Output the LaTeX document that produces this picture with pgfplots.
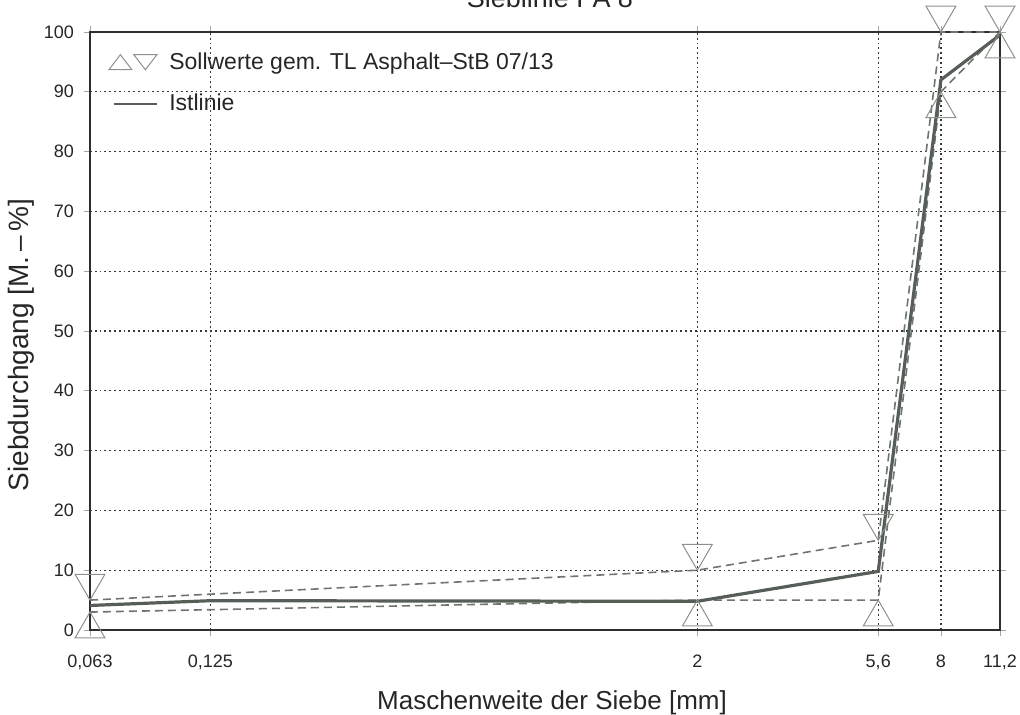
\documentclass[border=0pt]{standalone}
\usepackage{fontspec}
\setmainfont{Liberation Sans}
\usepackage{pgfplots}
\pgfplotsset{compat=1.18}

\definecolor{framec}{HTML}{2E2E2E}
\definecolor{gridc}{HTML}{383838}
\definecolor{istc}{HTML}{575D57}
\definecolor{dashc}{HTML}{6E746E}
\definecolor{markc}{HTML}{8A928A}

% triangle with apex at the data point, body below (lower limit)
\pgfdeclareplotmark{apexup}{%
  \pgfpathmoveto{\pgfpoint{0pt}{0pt}}%
  \pgfpathlineto{\pgfpoint{-0.866\pgfplotmarksize}{-1.5\pgfplotmarksize}}%
  \pgfpathlineto{\pgfpoint{0.866\pgfplotmarksize}{-1.5\pgfplotmarksize}}%
  \pgfpathclose\pgfusepathqstroke}
% triangle with apex at the data point, body above (upper limit)
\pgfdeclareplotmark{apexdown}{%
  \pgfpathmoveto{\pgfpoint{0pt}{0pt}}%
  \pgfpathlineto{\pgfpoint{-0.866\pgfplotmarksize}{1.5\pgfplotmarksize}}%
  \pgfpathlineto{\pgfpoint{0.866\pgfplotmarksize}{1.5\pgfplotmarksize}}%
  \pgfpathclose\pgfusepathqstroke}

\pgfplotstableread{
x     lower upper
0.063 3     5
2     5     10
5.6   5     15
8     90    100
11.2  100   100
}\limits

\pgfplotstableread{
x     y
0.063 4.1
0.125 4.9
2     4.8
5.6   9.8
8     92
11.2  99.5
}\ist

\begin{document}
\begin{tikzpicture}
\begin{axis}[
  name=ax,
  scale only axis,
  width=455pt, height=299pt,
  xmode=log,
  xmin=0.063, xmax=11.2,
  ymin=0, ymax=100,
  xtick={0.063,0.125,2,5.6,8,11.2},
  xticklabels={{0,063},{0,125},2,{5,6},8,{11,2}},
  ytick={0,10,...,100},
  yticklabel={\pgfmathprintnumber[assume math mode=true]{\tick}},
  minor xtick={},
  log ticks with fixed point,
  tick align=outside,
  major tick length=3pt,
  tick style={color=gray!70, line width=0.4pt},
  ticklabel style={font=\fontsize{9}{10}\selectfont, text=black!85},
  yticklabel style={xshift=-1.5pt},
  xticklabel style={yshift=-6pt},
  grid=major,
  major grid style={color=gridc, line width=0.65pt, dash pattern=on 0.9pt off 1.5pt},
  axis line style={color=framec, line width=1pt},
  xlabel={Maschenweite der Siebe [mm]},
  ylabel={Siebdurchgang [M.\,–\,\%]},
  xlabel style={font=\fontsize{13}{15}\selectfont, text=black!85, at={(axis description cs:0.5,0)}, anchor=base, yshift=-40pt, xshift=3.5pt},
  ylabel style={font=\fontsize{14}{16}\selectfont, text=black!85, at={(axis description cs:-0.0681,0.4766)}, anchor=base},
  legend style={at={(axis description cs:0,1)}, anchor=north west, draw=none, fill=none,
    font=\fontsize{11.5}{13}\selectfont, text=black!85, row sep=7pt, xshift=6pt, yshift=-6pt},
  legend cell align=left,
  clip=false,
]
\addlegendimage{legend image code/.code={
  \draw[markc, line width=0.5pt] (0pt,-3.75pt) -- (11.5pt,-3.75pt) -- (5.75pt,3.75pt) -- cycle;
  \draw[markc, line width=0.5pt] (12.5pt,3.75pt) -- (24pt,3.75pt) -- (18.25pt,-3.75pt) -- cycle;
  \path (28pt,0pt);}}
\addlegendentry{Sollwerte gem. TL Asphalt–StB 07/13}
\addlegendimage{legend image code/.code={
  \draw[istc, line width=1pt] (2.5pt,0pt) -- (24pt,0pt);
  \path (28pt,0pt);}}
\addlegendentry{Istlinie}

\addplot[forget plot, dashc, line width=0.8pt, dash pattern=on 4pt off 2.5pt,
  mark=apexup, mark size=8.6pt, mark options={solid, draw=markc, line width=0.5pt}]
  table[x=x, y=lower] {\limits};
\addplot[forget plot, dashc, line width=0.8pt, dash pattern=on 4pt off 2.5pt,
  mark=apexdown, mark size=8.6pt, mark options={solid, draw=markc, line width=0.5pt}]
  table[x=x, y=upper] {\limits};
\addplot[forget plot, istc, line width=1.6pt, no markers] table[x=x, y=y] {\ist};
\end{axis}
\node[anchor=base, font=\fontsize{13.5}{16}\selectfont, text=black!85, inner sep=0pt]
  at ([xshift=2.5pt, yshift=12pt]ax.north) {Sieblinie PA 8};
\pgfresetboundingbox
\useasboundingbox ([xshift=-45pt,yshift=-42.5pt]ax.south west) rectangle ([xshift=10pt,yshift=16pt]ax.north east);
\end{tikzpicture}
\end{document}
